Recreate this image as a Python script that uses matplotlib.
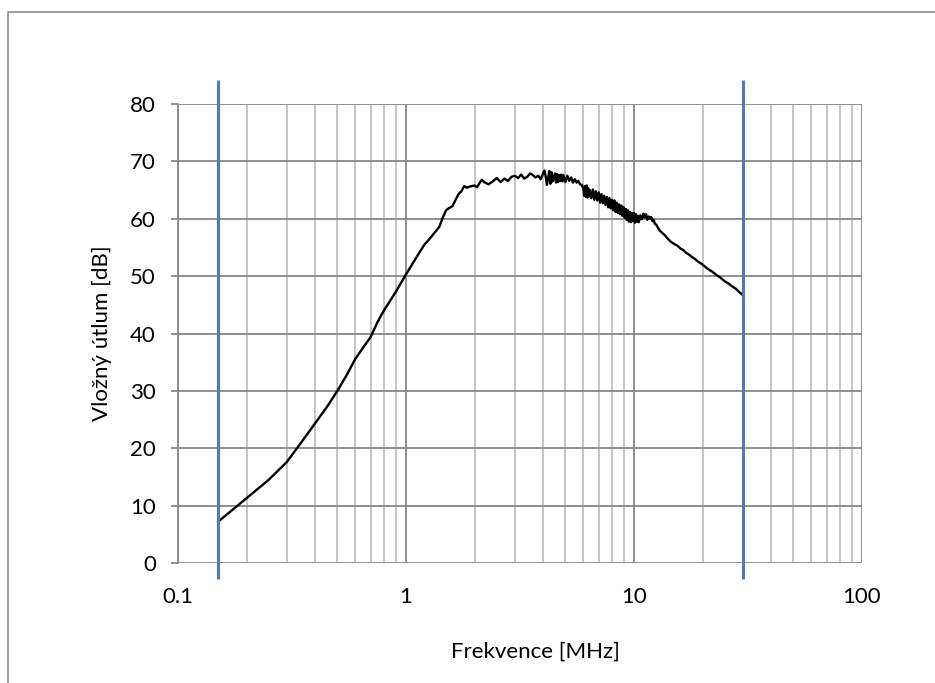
import matplotlib
matplotlib.use("Agg")
import matplotlib.pyplot as plt
from matplotlib.patches import Rectangle
from matplotlib.ticker import LogLocator, FixedLocator, NullFormatter, FuncFormatter

plt.rcParams['font.family'] = ['Lato', 'DejaVu Sans']

# Measured insertion loss of the filter
freq_mhz = [
    0.15, 0.2, 0.25, 0.3, 0.35, 0.4, 0.45, 0.5, 0.55, 0.6, 0.65, 0.7, 0.75, 0.8,
    0.9, 1.0, 1.1, 1.2, 1.3, 1.4, 1.45, 1.5, 1.55, 1.6, 1.65, 1.7, 1.75, 1.8,
    1.85, 1.9, 2.0, 2.05, 2.1, 2.15, 2.2, 2.3, 2.4, 2.5, 2.6, 2.7, 2.8, 2.9,
    3.0, 3.1, 3.2, 3.3, 3.4, 3.5, 3.6, 3.7, 3.8, 3.9, 4.0, 4.05, 4.1, 4.15,
    4.2, 4.25, 4.3, 4.35, 4.4, 4.45, 4.5, 4.55, 4.6, 4.65, 4.7, 4.75, 4.8,
    4.85, 4.9, 5.0, 5.1, 5.2, 5.3, 5.4, 5.5, 5.6, 5.7, 5.8, 5.9, 6.0,
    6.05, 6.1, 6.15, 6.2, 6.25, 6.3, 6.35, 6.4, 6.5, 6.6, 6.7, 6.8, 6.9,
    7.0, 7.1, 7.2, 7.3, 7.4, 7.5, 7.6, 7.7, 7.8, 7.9,
    8.0, 8.1, 8.2, 8.3, 8.4, 8.5, 8.6, 8.7, 8.8, 8.9,
    9.0, 9.1, 9.2, 9.3, 9.4, 9.5, 9.6, 9.7, 9.8, 9.9,
    10.0, 10.1, 10.2, 10.3, 10.4, 10.5,
    10.65, 10.8, 10.9, 11.0, 11.15, 11.3,
    11.45, 11.6, 11.75, 11.9, 12.05, 12.2, 12.35, 12.5, 12.75, 13.0, 13.25,
    13.5, 13.75, 14.0, 14.5, 15.0, 15.5, 16.0, 16.5, 17.0, 17.5, 18.0, 18.5,
    19.0, 19.5, 20.0, 21.0, 22.0, 23.0, 24.0, 25.0, 26.0, 27.0, 28.0, 29.0, 30.0,
]
loss_db = [
    7.2, 11.3, 14.5, 17.6, 21.2, 24.4, 27.2, 30.0, 32.8, 35.6, 37.6, 39.4, 42.0, 44.0,
    47.2, 50.3, 53.0, 55.4, 57.0, 58.6, 60.2, 61.5, 61.9, 62.2, 63.3, 64.3, 64.8, 65.7,
    65.4, 65.6, 65.8, 65.5, 66.2, 66.8, 66.4, 66.0, 66.5, 67.1, 66.4, 67.0, 66.6, 67.3,
    67.5, 67.1, 67.7, 67.0, 67.3, 67.9, 67.6, 67.2, 67.5, 66.9, 68.0, 68.4, 67.3, 65.9,
    67.0, 68.3, 66.1, 68.1, 66.5, 67.2, 67.9, 66.3, 67.8, 66.4, 67.6, 66.6, 67.7,
    66.5, 67.6, 66.4, 67.5, 66.6, 67.2, 66.3, 66.9, 66.3, 66.6, 66.0, 65.9, 65.2,
    64.0, 65.7, 63.8, 65.8, 63.7, 65.3, 63.9, 65.0, 63.6, 65.1, 63.3, 64.8, 63.2,
    64.6, 62.8, 64.3, 62.7, 64.0, 62.4, 63.8, 62.0, 63.6, 61.8,
    63.3, 61.5, 63.2, 61.2, 62.8, 61.0, 62.5, 60.8, 62.3, 60.5,
    62.0, 60.2, 61.7, 59.8, 61.5, 59.5, 61.2, 59.4, 61.0, 59.6,
    61.0, 59.3, 60.8, 59.5, 60.5, 59.4,
    60.6, 59.9, 60.1, 60.9, 60.2, 60.8,
    59.8, 60.4, 60.0, 60.3, 59.6, 59.8, 59.1, 59.0, 58.4, 57.9, 57.6,
    57.3, 57.0, 56.6, 56.0, 55.6, 55.3, 54.8, 54.5, 54.0, 53.7, 53.3, 53.0,
    52.6, 52.3, 52.0, 51.3, 50.8, 50.2, 49.7, 49.1, 48.7, 48.2, 47.8, 47.2, 46.7,
]

# Band limits of the measurement (0.15 - 30 MHz)
band_limits_mhz = [0.15, 30.0]

x_range = (0.1, 100)
y_range = (0, 80)
y_ticks = [0, 10, 20, 30, 40, 50, 60, 70, 80]
x_tick_labels = {0.1: "0.1", 1: "1", 10: "10", 100: "100"}

FS = 16

fig = plt.figure(figsize=(9.35, 6.83), dpi=100)
ax = fig.add_axes([178 / 935, 1 - 563 / 683, (862 - 178) / 935, (563 - 104) / 683])

ax.set_xscale('log')
ax.set_xlim(*x_range)
ax.set_ylim(*y_range)

ax.xaxis.set_major_locator(FixedLocator(list(x_tick_labels.keys())))
ax.xaxis.set_major_formatter(FuncFormatter(lambda v, p: x_tick_labels.get(round(v, 6), "")))
ax.xaxis.set_minor_locator(LogLocator(base=10, subs=range(2, 10)))
ax.xaxis.set_minor_formatter(NullFormatter())
ax.set_yticks(y_ticks)

# grid
ax.grid(which='minor', axis='x', color='#c0c0c0', lw=1.3, zorder=0)
ax.grid(which='major', axis='x', color='#878787', lw=1.3, zorder=0.5)
ax.grid(which='major', axis='y', color='#878787', lw=1.3, zorder=0.5)

for s in ['top', 'right', 'bottom']:
    ax.spines[s].set_visible(False)
ax.spines['left'].set_color('#878787')
ax.spines['left'].set_linewidth(1.3)

ax.tick_params(axis='x', which='both', length=0, pad=17, labelsize=FS, colors='black')
ax.tick_params(axis='y', which='major', length=5, width=1.3, color='#878787',
               pad=11, labelsize=FS, labelcolor='black')

# curve
ax.plot(freq_mhz, loss_db, color='black', lw=1.7, zorder=3)

# band limit markers
for f in band_limits_mhz:
    ax.plot([f, f], [-2.8, 84.2], color='#4a7ebb', lw=2.2, zorder=4, clip_on=False,
            solid_capstyle='butt')

fig.text(102 / 935, 1 - 333 / 683, 'Vložný útlum [dB]', fontsize=FS,
         rotation=90, ha='center', va='center')
fig.text(535 / 935, 1 - 652 / 683, 'Frekvence [MHz]', fontsize=FS,
         ha='center', va='center')

# chart frame
fig.patches.append(Rectangle((8 / 935, -0.05), 1.0, 1 - 12 / 683 + 0.05,
                             transform=fig.transFigure, fill=False,
                             edgecolor='#8c8c8c', lw=1.2))

fig.savefig('out.png', dpi=100)
